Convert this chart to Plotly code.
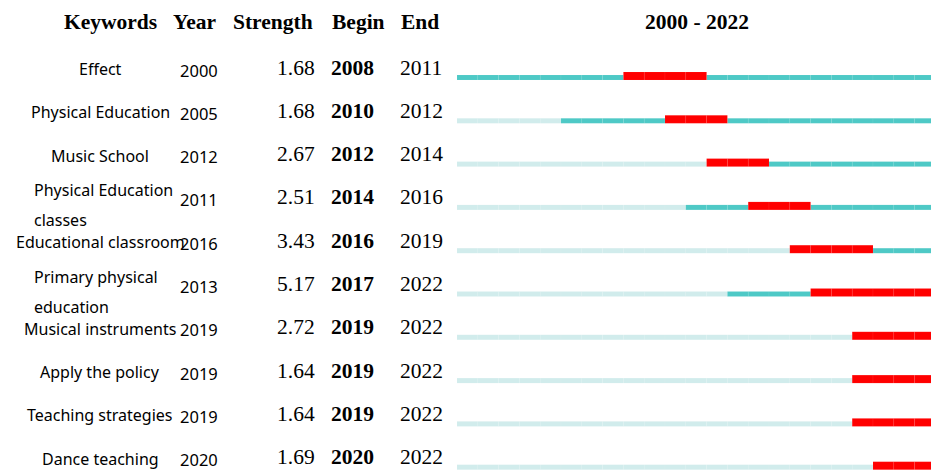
import plotly.graph_objects as go

# ---- data ----
keywords = ["Effect", "Physical Education", "Music School", "Physical Education<br>classes",
            "Educational classroom", "Primary physical<br>education", "Musical instruments",
            "Apply the policy", "Teaching strategies", "Dance teaching"]
first_year = [2000, 2005, 2012, 2011, 2016, 2013, 2019, 2019, 2019, 2020]
strength = [1.68, 1.68, 2.67, 2.51, 3.43, 5.17, 2.72, 1.64, 1.64, 1.69]
begin = [2008, 2010, 2012, 2014, 2016, 2017, 2019, 2019, 2019, 2020]
end = [2011, 2012, 2014, 2016, 2019, 2022, 2022, 2022, 2022, 2022]
year_start, year_end = 2000, 2022
headers = ["Keywords", "Year", "Strength", "Begin", "End"]

# ---- styles / layout constants ----
W, H = 931, 470
ROW_PX = 43.3
ROW0_PX = 77.5
LIGHT = "#d1ecec"
DARK = "#4ec9c6"
RED = "#ff0000"
SANS = "Noto Sans"
SERIF = "Liberation Serif"

cells = {"light": ([], []), "dark": ([], []), "red": ([], [])}
for i in range(len(keywords)):
    for y in range(year_start, year_end + 1):
        if begin[i] <= y <= end[i]:
            k = "red"
        elif y >= first_year[i]:
            k = "dark"
        else:
            k = "light"
        cells[k][0].append(i)
        cells[k][1].append(y - 0.5)

teal_h = 5 / ROW_PX
red_h = 8 / ROW_PX
fig = go.Figure()
for k, col in [("light", LIGHT), ("dark", DARK), ("red", RED)]:
    ys, bases = cells[k]
    h = red_h if k == "red" else teal_h
    fig.add_trace(go.Bar(
        y=ys, x=[1] * len(ys), base=bases, orientation="h",
        width=h, offset=teal_h / 2 - h,
        marker=dict(color=col, line=dict(width=0.4, color="rgba(255,255,255,0.12)")),
        hoverinfo="skip", showlegend=False))

y_top = -ROW0_PX / ROW_PX
y_bot = (H - ROW0_PX) / ROW_PX
x0 = year_start - 0.5
x1 = x0 + (W - 457) / 20.8

fig.update_layout(
    width=W, height=H, margin=dict(l=0, r=0, t=0, b=0),
    paper_bgcolor="white", plot_bgcolor="white", barmode="overlay",
    xaxis=dict(domain=[457 / W, 1], range=[x0, x1], visible=False, fixedrange=True),
    yaxis=dict(range=[y_bot, y_top], visible=False, fixedrange=True),
)

def px(x):
    return x / W

def rowy(i, dpx):
    return i + dpx / ROW_PX

ann = []
head_x = [110, 194, 273, 358, 420]
for h, x in zip(headers, head_x):
    ann.append(dict(text=f"<b>{h}</b>", x=px(x), y=1 - 22 / H, xref="paper", yref="paper",
                    xanchor="center", yanchor="middle", showarrow=False,
                    font=dict(family=SERIF, size=21.5, color="black")))
ann.append(dict(text=f"<b>{year_start} - {year_end}</b>", x=px(697), y=1 - 22 / H,
                xref="paper", yref="paper", xanchor="center", yanchor="middle",
                showarrow=False, font=dict(family=SERIF, size=21.5, color="black")))

for i in range(len(keywords)):
    lines = keywords[i].split("<br>")
    if len(lines) == 1:
        ann.append(dict(text=lines[0], x=px(100), y=rowy(i, -8.5), xref="paper", yref="y",
                        xanchor="center", yanchor="middle", showarrow=False,
                        font=dict(family=SANS, size=16, color="black")))
    else:
        for j, ln in enumerate(lines):
            ann.append(dict(text=ln, x=px(32), y=rowy(i, -17.5 + 30 * j), xref="paper", yref="y",
                            xanchor="left", yanchor="middle", showarrow=False,
                            font=dict(family=SANS, size=16, color="black")))
    ann.append(dict(text=str(first_year[i]), x=px(199), y=rowy(i, -7.5), xref="paper", yref="y",
                    xanchor="center", yanchor="middle", showarrow=False,
                    font=dict(family=SANS, size=16.5, color="black")))
    ann.append(dict(text=f"{strength[i]:.2f}", x=px(317), y=rowy(i, -10), xref="paper", yref="y",
                    xanchor="right", yanchor="middle", showarrow=False,
                    font=dict(family=SERIF, size=21.5, color="black")))
    ann.append(dict(text=f"<b>{begin[i]}</b>", x=px(352), y=rowy(i, -10), xref="paper", yref="y",
                    xanchor="center", yanchor="middle", showarrow=False,
                    font=dict(family=SERIF, size=21.5, color="black")))
    ann.append(dict(text=str(end[i]), x=px(421), y=rowy(i, -10), xref="paper", yref="y",
                    xanchor="center", yanchor="middle", showarrow=False,
                    font=dict(family=SERIF, size=21.5, color="black")))

fig.update_layout(annotations=ann)
fig.write_html("out.html", config={"displayModeBar": False},
               post_script="document.body.style.margin='0';document.body.style.overflow='hidden';")
